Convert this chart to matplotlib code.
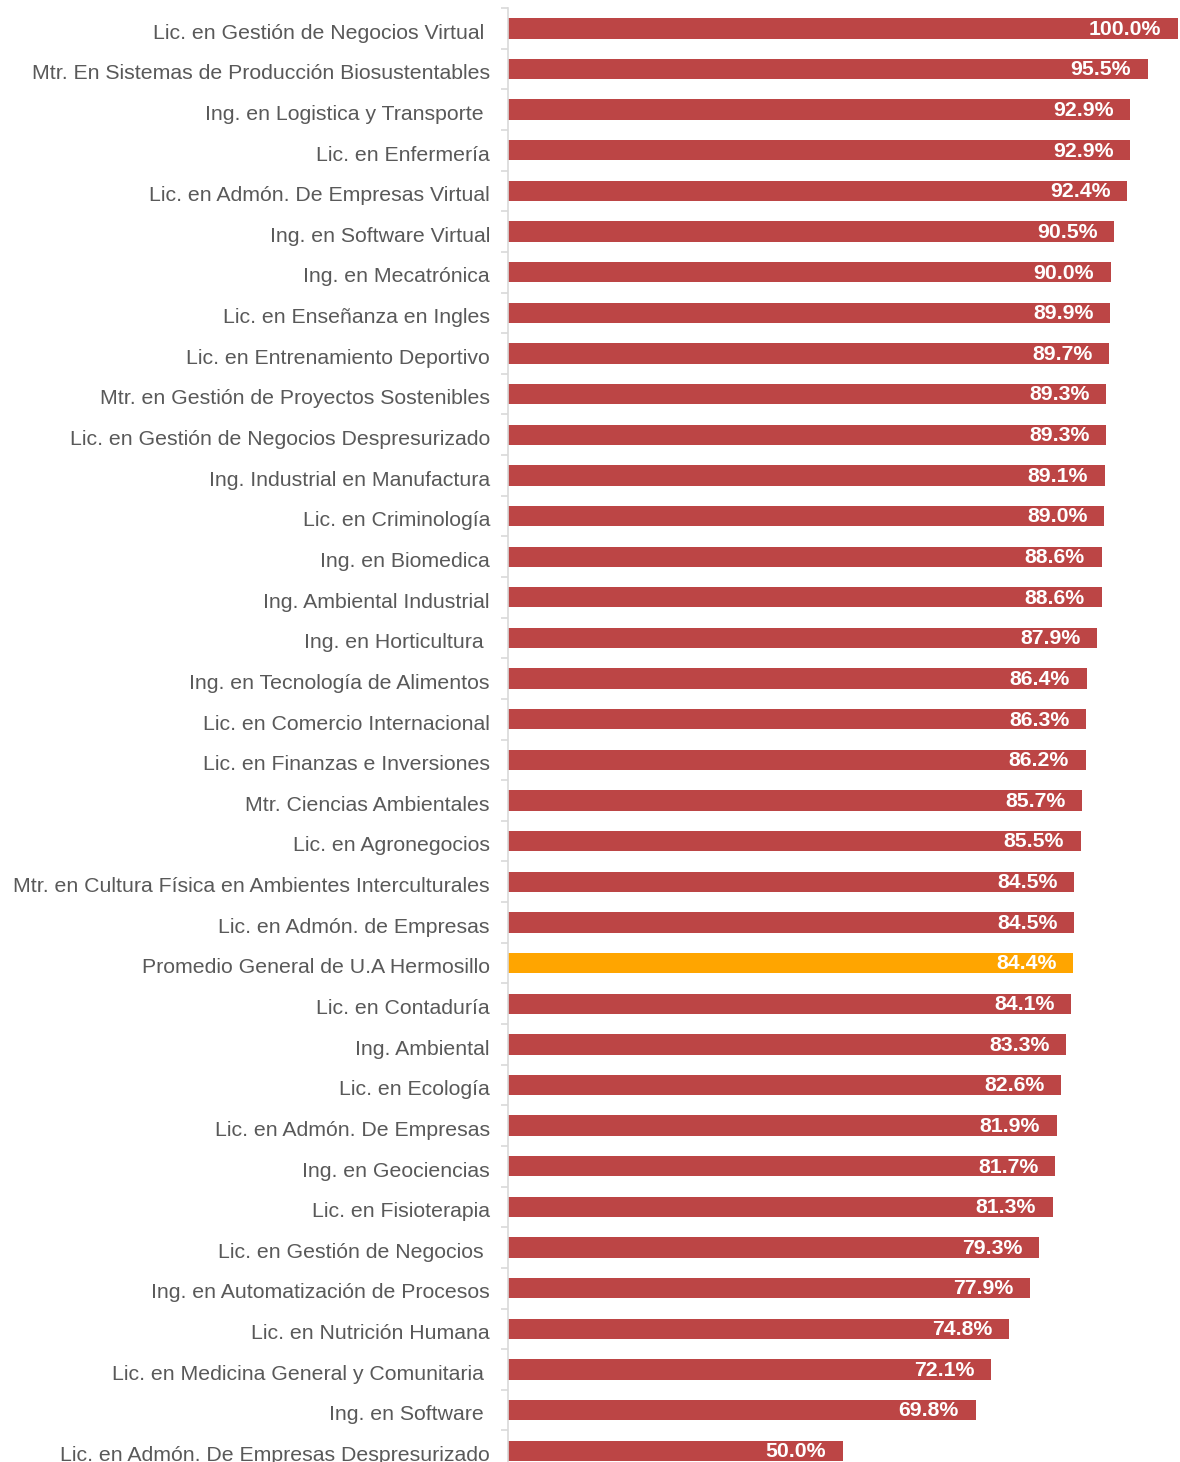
import matplotlib.pyplot as plt
import matplotlib.transforms as mtransforms
import numpy as np

programas = [
    "Lic. en Gestión de Negocios Virtual ",
    "Mtr. En Sistemas de Producción Biosustentables",
    "Ing. en Logistica y Transporte ",
    "Lic. en Enfermería",
    "Lic. en Admón. De Empresas Virtual",
    "Ing. en Software Virtual",
    "Ing. en Mecatrónica",
    "Lic. en Enseñanza en Ingles",
    "Lic. en Entrenamiento Deportivo",
    "Mtr. en Gestión de Proyectos Sostenibles",
    "Lic. en Gestión de Negocios Despresurizado",
    "Ing. Industrial en Manufactura",
    "Lic. en Criminología",
    "Ing. en Biomedica",
    "Ing. Ambiental Industrial",
    "Ing. en Horticultura ",
    "Ing. en Tecnología de Alimentos",
    "Lic. en Comercio Internacional",
    "Lic. en Finanzas e Inversiones",
    "Mtr. Ciencias Ambientales",
    "Lic. en Agronegocios",
    "Mtr. en Cultura Física en Ambientes Interculturales",
    "Lic. en Admón. de Empresas",
    "Promedio General de U.A Hermosillo",
    "Lic. en Contaduría",
    "Ing. Ambiental",
    "Lic. en Ecología",
    "Lic. en Admón. De Empresas",
    "Ing. en Geociencias",
    "Lic. en Fisioterapia",
    "Lic. en Gestión de Negocios ",
    "Ing. en Automatización de Procesos",
    "Lic. en Nutrición Humana",
    "Lic. en Medicina General y Comunitaria ",
    "Ing. en Software ",
    "Lic. en Admón. De Empresas Despresurizado",
]
porcentajes = [
    100.0, 95.5, 92.9, 92.9, 92.4, 90.5, 90.0, 89.9, 89.7, 89.3,
    89.3, 89.1, 89.0, 88.6, 88.6, 87.9, 86.4, 86.3, 86.2, 85.7,
    85.5, 84.5, 84.5, 84.4, 84.1, 83.3, 82.6, 81.9, 81.7, 81.3,
    79.3, 77.9, 74.8, 72.1, 69.8, 50.0,
]
promedio = "Promedio General de U.A Hermosillo"

ROJO = "#BC4545"
NARANJA = "#FFA500"
GRIS_TEXTO = "#595959"
GRIS_EJE = "#D9D9D9"

plt.rcParams["font.family"] = ["Liberation Sans", "DejaVu Sans"]

fig = plt.figure(figsize=(11.8, 14.62), dpi=100)
ax = fig.add_axes([0.4305, -0.0062, 0.5678, 1.0007])

n = len(programas)
y = np.arange(n)
colores = [NARANJA if p == promedio else ROJO for p in programas]
ax.barh(y, porcentajes, height=0.5, color=colores, edgecolor="none")

for yi, val in zip(y, porcentajes):
    ax.text(val - 2.5, yi + 0.02, f"{val:.1f}%", ha="right", va="center",
            color="white", fontsize=15.3, fontweight="bold")

ax.set_xlim(0, 100)
ax.set_ylim(n - 0.5, -0.5)
ax.set_yticks(y)
ax.set_yticklabels(programas, fontsize=15.3, color=GRIS_TEXTO)
ax.set_yticks(np.arange(n + 1) - 0.5, minor=True)
ax.tick_params(axis="y", which="major", length=0, pad=13)
ax.tick_params(axis="y", which="minor", length=5, color=GRIS_EJE, width=1.2)
ax.set_xticks([])

# bajar un poco las etiquetas de los programas
desplazar = mtransforms.ScaledTranslation(0, -2 / 72, fig.dpi_scale_trans)
for etiqueta in ax.get_yticklabels():
    etiqueta.set_transform(etiqueta.get_transform() + desplazar)

for lado in ("top", "right", "bottom"):
    ax.spines[lado].set_visible(False)
ax.spines["left"].set_color(GRIS_EJE)
ax.spines["left"].set_linewidth(1.2)

fig.savefig("out.png", dpi=100)
